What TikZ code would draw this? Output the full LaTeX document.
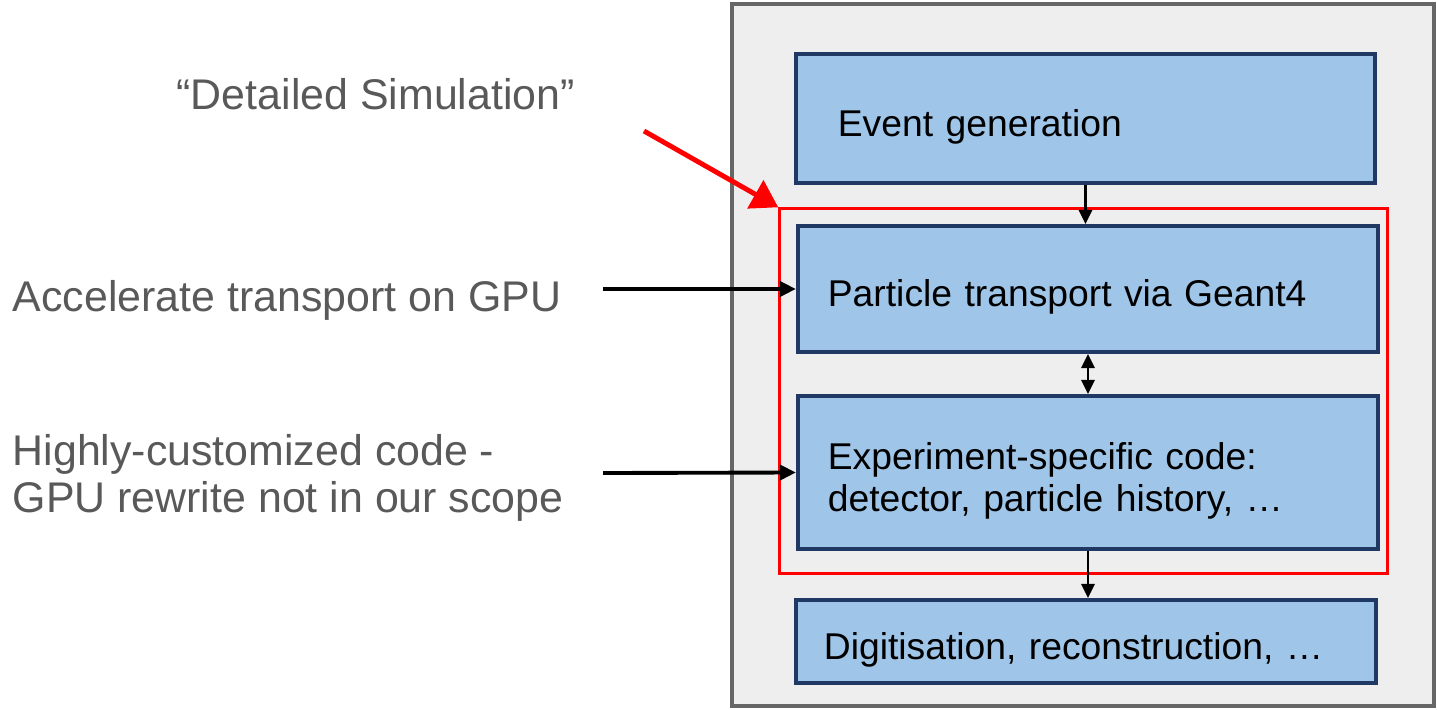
\documentclass[tikz,border=0pt]{standalone}
\usepackage{fontspec}
\setmainfont{Liberation Sans}
\usetikzlibrary{arrows.meta}

\begin{document}
\begin{tikzpicture}[x=0.01cm, y=-0.01cm,
    stage/.style={rectangle, draw=stageborder, line width=1.1pt, fill=stagefill,
        text width=#1, align=left, inner ysep=0pt, font=\fontsize{10.6}{12}\selectfont,
        execute at begin node={\rule{0pt}{12.3pt}}},
    note/.style={inner sep=0pt, text=notegray, align=left, font=\fontsize{12.2}{13.4}\selectfont},
    flow/.style={line width=0.6pt, -{Triangle[width=3.8pt, length=4pt]}},
    pointer/.style={line width=1.1pt, -{Triangle[width=4.2pt, length=4.5pt]}},
    redpointer/.style={draw=red, line width=1.4pt, -{Triangle[width=9pt, length=7.5pt]}}]
    % Define colors
    \definecolor{stagefill}{RGB}{159,197,232}
    \definecolor{stageborder}{RGB}{31,56,100}
    \definecolor{framegray}{RGB}{102,102,102}
    \definecolor{framefill}{RGB}{238,238,238}
    \definecolor{notegray}{RGB}{89,89,89}

    % Page size
    \useasboundingbox (0,0) rectangle (1437,709);

    % Workflow frame
    \node[rectangle, draw=framegray, line width=1.2pt, fill=framefill,
        minimum width=7.02cm, minimum height=7.02cm] (frame) at (1083,355) {};

    % Simulation part (red)
    \node[rectangle, draw=red, line width=0.9pt,
        minimum width=6.07cm, minimum height=3.64cm] (simbox) at (1083.5,391) {};

    % Stages
    \node[stage=4.95cm, inner xsep=0.42cm, minimum height=1.29cm] (event) at (1085.5,118.5) {Event generation};
    \node[stage=5.2cm, inner xsep=0.30cm, minimum height=1.26cm] (transport) at (1088,289) {Particle transport via Geant4};
    \node[stage=5.2cm, inner xsep=0.30cm, minimum height=1.53cm] (expcode) at (1088,472.5) {Experiment-specific code:\\detector, particle history, …};
    \node[stage=5.24cm, inner xsep=0.28cm, minimum height=0.83cm] (digi) at (1086,641.5) {Digitisation, reconstruction, …};

    % Flow between stages
    \draw[flow] (event.south) -- (event.south |- transport.north);
    \draw[flow, {Triangle[width=3.8pt, length=4pt]}-{Triangle[width=3.8pt, length=4pt]}] (transport.south) -- (expcode.north);
    \draw[flow] (expcode.south) -- (expcode.south |- digi.north);

    % Notes on the left
    \node[note, anchor=base west] (detsim) at (176,109) {“Detailed Simulation”};
    \node[note, anchor=base west] (accel) at (12,311) {Accelerate transport on GPU};
    \node[note, anchor=west] (custom) at (12,478) {Highly-customized code -\\GPU rewrite not in our scope};

    % Pointers
    \coordinate (simtail) at (644,131);
    \coordinate (acceltail) at (603,289);
    \coordinate (customtail) at (603,473);
    \draw[redpointer] (simtail) -- (simbox.north west);
    \draw[pointer] (acceltail) -- (transport.west);
    \draw[pointer] (customtail) -- (expcode.west);
\end{tikzpicture}
\end{document}
